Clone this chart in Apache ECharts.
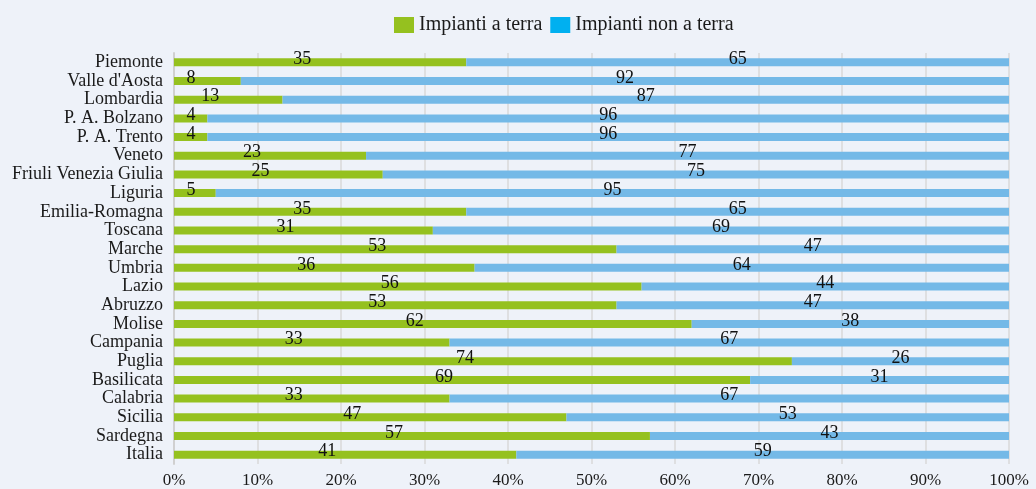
<!DOCTYPE html>
<html>
<head>
<meta charset="utf-8">
<script src="https://cdn.jsdelivr.net/npm/echarts@6/dist/echarts.min.js"></script>
<style>
  html, body { margin: 0; padding: 0; background: #eef2f9; }
  #chart { width: 1036px; height: 489px; }
</style>
</head>
<body>
<div id="chart"></div>
<script>
// Regions (top to bottom) and the share of plants on the ground vs. not on the ground (%)
const regions = ['Piemonte', "Valle d'Aosta", 'Lombardia', 'P. A. Bolzano', 'P. A. Trento', 'Veneto',
  'Friuli Venezia Giulia', 'Liguria', 'Emilia-Romagna', 'Toscana', 'Marche', 'Umbria', 'Lazio',
  'Abruzzo', 'Molise', 'Campania', 'Puglia', 'Basilicata', 'Calabria', 'Sicilia', 'Sardegna', 'Italia'];
const aTerra = [35, 8, 13, 4, 4, 23, 25, 5, 35, 31, 53, 36, 56, 53, 62, 33, 74, 69, 33, 47, 57, 41];
const nonATerra = [65, 92, 87, 96, 96, 77, 75, 95, 65, 69, 47, 64, 44, 47, 38, 67, 26, 31, 67, 53, 43, 59];
const xTicks = [0, 10, 20, 30, 40, 50, 60, 70, 80, 90, 100];

const FONT = '"Liberation Serif", "DejaVu Serif", serif';
const GRID = { left: 174, right: 27, top: 53, bottom: 25 };
const plotW = 1036 - GRID.left - GRID.right;

// Ground-plant labels sit a little left of the segment centre, but never past the axis
function greenLabel(v) {
  const half = v / 100 * plotW / 2;
  const dx = Math.max(-18, 17 - half);
  return { value: v, label: { offset: [dx, -3] } };
}

const chart = echarts.init(document.getElementById('chart'), null, { renderer: 'canvas' });
chart.setOption({
  backgroundColor: '#eef2f9',
  animation: false,
  textStyle: { fontFamily: FONT },
  legend: {
    top: 10,
    left: 389,
    itemWidth: 20,
    itemHeight: 16,
    itemGap: 8,
    icon: 'rect',
    textStyle: { fontFamily: FONT, fontSize: 20, color: '#1a1a1a' },
    data: [
      { name: 'Impianti a terra' },
      { name: 'Impianti non a terra', itemStyle: { color: '#00b0f0' } }
    ]
  },
  grid: GRID,
  xAxis: {
    type: 'value',
    min: 0,
    max: 100,
    interval: 10,
    axisLabel: {
      fontFamily: FONT, fontSize: 17, color: '#1a1a1a', margin: 8,
      formatter: v => xTicks.includes(v) ? v + '%' : ''
    },
    axisLine: { show: false },
    axisTick: { show: false },
    splitLine: { show: true, lineStyle: { color: '#d9d9d9', width: 1.5 } }
  },
  yAxis: {
    type: 'category',
    data: regions,
    inverse: true,
    axisLine: { show: true, lineStyle: { color: '#d0d0d0', width: 2 } },
    axisTick: { show: false },
    axisLabel: { interval: 0, fontFamily: FONT, fontSize: 18, color: '#1a1a1a', margin: 11 }
  },
  series: [
    {
      name: 'Impianti a terra',
      type: 'bar',
      stack: 'tot',
      barWidth: 8,
      itemStyle: { color: '#95c11f' },
      label: {
        show: true, position: 'inside',
        fontFamily: FONT, fontSize: 18, color: '#111'
      },
      data: aTerra.map(greenLabel)
    },
    {
      name: 'Impianti non a terra',
      type: 'bar',
      stack: 'tot',
      barWidth: 8,
      itemStyle: { color: '#74b9e7' },
      label: {
        show: true, position: 'inside', offset: [0, -3],
        fontFamily: FONT, fontSize: 18, color: '#111'
      },
      data: nonATerra
    }
  ]
});
</script>
</body>
</html>
